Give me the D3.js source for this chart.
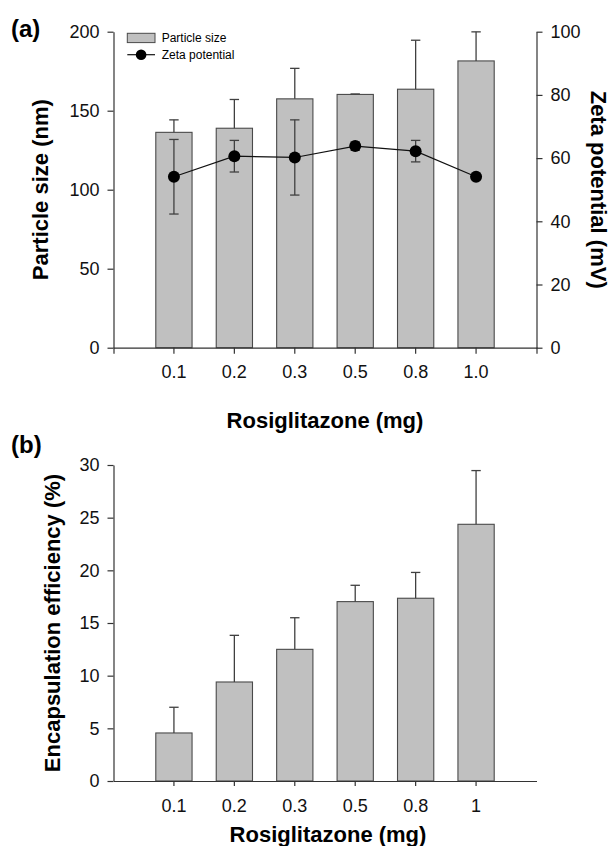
<!DOCTYPE html>
<html>
<head>
<meta charset="utf-8">
<script src="https://cdn.jsdelivr.net/npm/d3@7"></script>
<style>
  body { margin: 0; background: #fff; }
  svg { display: block; font-family: "Liberation Sans", Arial, sans-serif; }
  .tick text { font-size: 18px; fill: #111; }
  .domain, .tick line { stroke: #333; stroke-width: 1.2; }
</style>
</head>
<body>
<div id="chart"></div>
<script>
// Data
const doses = ['0.1', '0.2', '0.3', '0.5', '0.8', '1.0'];
const dosesB = ['0.1', '0.2', '0.3', '0.5', '0.8', '1'];
const particleSize = [136.3, 138.9, 157.5, 160.3, 163.6, 181.5];
const particleSizeErr = [7.9, 18.2, 19.3, 0.3, 31.0, 18.4];
const zetaPotential = [54.1, 60.6, 60.2, 63.8, 62.2, 54.1];
const zetaErr = [11.8, 5.0, 11.9, 1.3, 3.4, 0];
const encapsulation = [4.56, 9.4, 12.5, 17.03, 17.35, 24.37];
const encapsulationErr = [2.44, 4.43, 3.0, 1.55, 2.45, 5.1];
const sizeTicks = [0, 50, 100, 150, 200];
const zetaTicks = [0, 20, 40, 60, 80, 100];
const eeTicks = [0, 5, 10, 15, 20, 25, 30];

const svg = d3.select('#chart')
    .append('svg')
    .attr('width', 612)
    .attr('height', 846);

const barFill = '#c0c0c0';
const barStroke = '#4a4a4a';
const errStroke = '#404040';
const capHalf = 4.7;

// ---------- Panel (a) ----------
const xA = d3.scaleBand()
    .domain(doses)
    .range([113.5, 536.5])
    .paddingInner(0.4)
    .paddingOuter(0.7);

const yA = d3.scaleLinear().domain([0, 200]).range([347.7, 31.7]);
const yZ = d3.scaleLinear().domain([0, 100]).range([347.7, 31.7]);

const gA = svg.append('g');

// bars
gA.selectAll('.bar-a')
    .data(doses)
    .enter().append('rect')
    .attr('class', 'bar-a')
    .attr('x', d => xA(d))
    .attr('y', (d, i) => yA(particleSize[i]))
    .attr('width', xA.bandwidth())
    .attr('height', (d, i) => yA(0) - yA(particleSize[i]))
    .attr('fill', barFill)
    .attr('stroke', barStroke)
    .attr('stroke-width', 1.1);

// bar error bars (upper only)
const errA = gA.selectAll('.err-a')
    .data(doses)
    .enter().append('g')
    .attr('class', 'err-a')
    .attr('stroke', errStroke)
    .attr('stroke-width', 1.3);

errA.append('line')
    .attr('x1', d => xA(d) + xA.bandwidth() / 2)
    .attr('x2', d => xA(d) + xA.bandwidth() / 2)
    .attr('y1', (d, i) => yA(particleSize[i]))
    .attr('y2', (d, i) => yA(particleSize[i] + particleSizeErr[i]));

errA.append('line')
    .attr('x1', d => xA(d) + xA.bandwidth() / 2 - capHalf)
    .attr('x2', d => xA(d) + xA.bandwidth() / 2 + capHalf)
    .attr('y1', (d, i) => yA(particleSize[i] + particleSizeErr[i]))
    .attr('y2', (d, i) => yA(particleSize[i] + particleSizeErr[i]));

// zeta line
const cx = d => xA(d) + xA.bandwidth() / 2;
const zetaLine = d3.line()
    .x(d => cx(d))
    .y((d, i) => yZ(zetaPotential[i]));

gA.append('path')
    .datum(doses)
    .attr('d', zetaLine)
    .attr('fill', 'none')
    .attr('stroke', '#111')
    .attr('stroke-width', 1.2);

// zeta error bars (both sides)
const errZ = gA.selectAll('.err-z')
    .data(doses)
    .enter().append('g')
    .attr('class', 'err-z')
    .attr('stroke', errStroke)
    .attr('stroke-width', 1.3);

errZ.append('line')
    .attr('x1', cx).attr('x2', cx)
    .attr('y1', (d, i) => yZ(zetaPotential[i] - zetaErr[i]))
    .attr('y2', (d, i) => yZ(zetaPotential[i] + zetaErr[i]));

[-1, 1].forEach(s => {
    errZ.append('line')
        .attr('x1', d => cx(d) - capHalf)
        .attr('x2', d => cx(d) + capHalf)
        .attr('y1', (d, i) => yZ(zetaPotential[i] + s * zetaErr[i]))
        .attr('y2', (d, i) => yZ(zetaPotential[i] + s * zetaErr[i]));
});

// zeta markers
gA.selectAll('.dot')
    .data(doses)
    .enter().append('circle')
    .attr('class', 'dot')
    .attr('cx', cx)
    .attr('cy', (d, i) => yZ(zetaPotential[i]))
    .attr('r', 6)
    .attr('fill', '#000');

// axes
gA.append('g')
    .attr('transform', `translate(0,${yA(0)})`)
    .call(d3.axisBottom(xA).tickSize(6).tickSizeOuter(6).tickPadding(12));

gA.append('g')
    .attr('transform', 'translate(113.5,0)')
    .call(d3.axisLeft(yA).tickValues(sizeTicks).tickSize(6).tickSizeOuter(0).tickPadding(8));

gA.append('g')
    .attr('transform', 'translate(536.5,0)')
    .call(d3.axisRight(yZ).tickValues(zetaTicks).tickSize(6).tickSizeOuter(0).tickPadding(8));

// axis titles
gA.append('text')
    .attr('transform', `translate(48,${(yA(0) + yA(200)) / 2}) rotate(-90)`)
    .attr('text-anchor', 'middle')
    .style('font-size', '22px')
    .style('font-weight', 'bold')
    .text('Particle size (nm)');

gA.append('text')
    .attr('transform', `translate(591,${(yZ(0) + yZ(100)) / 2}) rotate(90)`)
    .attr('text-anchor', 'middle')
    .style('font-size', '22px')
    .style('font-weight', 'bold')
    .text('Zeta potential (mV)');

gA.append('text')
    .attr('x', 325)
    .attr('y', 428)
    .attr('text-anchor', 'middle')
    .style('font-size', '22px')
    .style('font-weight', 'bold')
    .text('Rosiglitazone (mg)');

gA.append('text')
    .attr('x', 11)
    .attr('y', 37)
    .style('font-size', '24px')
    .style('font-weight', 'bold')
    .text('(a)');

// legend
const legend = gA.append('g').attr('transform', 'translate(127.3,33.3)');
legend.append('rect')
    .attr('width', 27.7)
    .attr('height', 9.3)
    .attr('fill', barFill)
    .attr('stroke', barStroke)
    .attr('stroke-width', 1);
legend.append('text')
    .attr('x', 34.4)
    .attr('y', 8.5)
    .style('font-size', '12px')
    .text('Particle size');
legend.append('line')
    .attr('x1', 0).attr('x2', 27.7)
    .attr('y1', 21.4).attr('y2', 21.4)
    .attr('stroke', '#111')
    .attr('stroke-width', 1.2);
legend.append('circle')
    .attr('cx', 13.8)
    .attr('cy', 21.4)
    .attr('r', 5.3)
    .attr('fill', '#000');
legend.append('text')
    .attr('x', 34.4)
    .attr('y', 25.7)
    .style('font-size', '12px')
    .text('Zeta potential');

// ---------- Panel (b) ----------
const xB = d3.scaleBand()
    .domain(dosesB)
    .range([113.5, 536.5])
    .paddingInner(0.4)
    .paddingOuter(0.7);

const yB = d3.scaleLinear().domain([0, 30]).range([781, 465]);

const gB = svg.append('g');

gB.selectAll('.bar-b')
    .data(dosesB)
    .enter().append('rect')
    .attr('class', 'bar-b')
    .attr('x', d => xB(d))
    .attr('y', (d, i) => yB(encapsulation[i]))
    .attr('width', xB.bandwidth())
    .attr('height', (d, i) => yB(0) - yB(encapsulation[i]))
    .attr('fill', barFill)
    .attr('stroke', barStroke)
    .attr('stroke-width', 1.1);

const errB = gB.selectAll('.err-b')
    .data(dosesB)
    .enter().append('g')
    .attr('class', 'err-b')
    .attr('stroke', errStroke)
    .attr('stroke-width', 1.3);

errB.append('line')
    .attr('x1', d => xB(d) + xB.bandwidth() / 2)
    .attr('x2', d => xB(d) + xB.bandwidth() / 2)
    .attr('y1', (d, i) => yB(encapsulation[i]))
    .attr('y2', (d, i) => yB(encapsulation[i] + encapsulationErr[i]));

errB.append('line')
    .attr('x1', d => xB(d) + xB.bandwidth() / 2 - capHalf)
    .attr('x2', d => xB(d) + xB.bandwidth() / 2 + capHalf)
    .attr('y1', (d, i) => yB(encapsulation[i] + encapsulationErr[i]))
    .attr('y2', (d, i) => yB(encapsulation[i] + encapsulationErr[i]));

gB.append('g')
    .attr('transform', `translate(0,${yB(0)})`)
    .call(d3.axisBottom(xB).tickSize(5).tickSizeOuter(0).tickPadding(13));

gB.append('g')
    .attr('transform', 'translate(113.5,0)')
    .call(d3.axisLeft(yB).tickValues(eeTicks).tickSize(6).tickSizeOuter(0).tickPadding(8));

gB.append('text')
    .attr('transform', `translate(60,${(yB(0) + yB(30)) / 2}) rotate(-90)`)
    .attr('text-anchor', 'middle')
    .style('font-size', '22px')
    .style('font-weight', 'bold')
    .text('Encapsulation efficiency (%)');

gB.append('text')
    .attr('x', 328)
    .attr('y', 842)
    .attr('text-anchor', 'middle')
    .style('font-size', '22px')
    .style('font-weight', 'bold')
    .text('Rosiglitazone (mg)');

gB.append('text')
    .attr('x', 11)
    .attr('y', 453)
    .style('font-size', '24px')
    .style('font-weight', 'bold')
    .text('(b)');
</script>
</body>
</html>
